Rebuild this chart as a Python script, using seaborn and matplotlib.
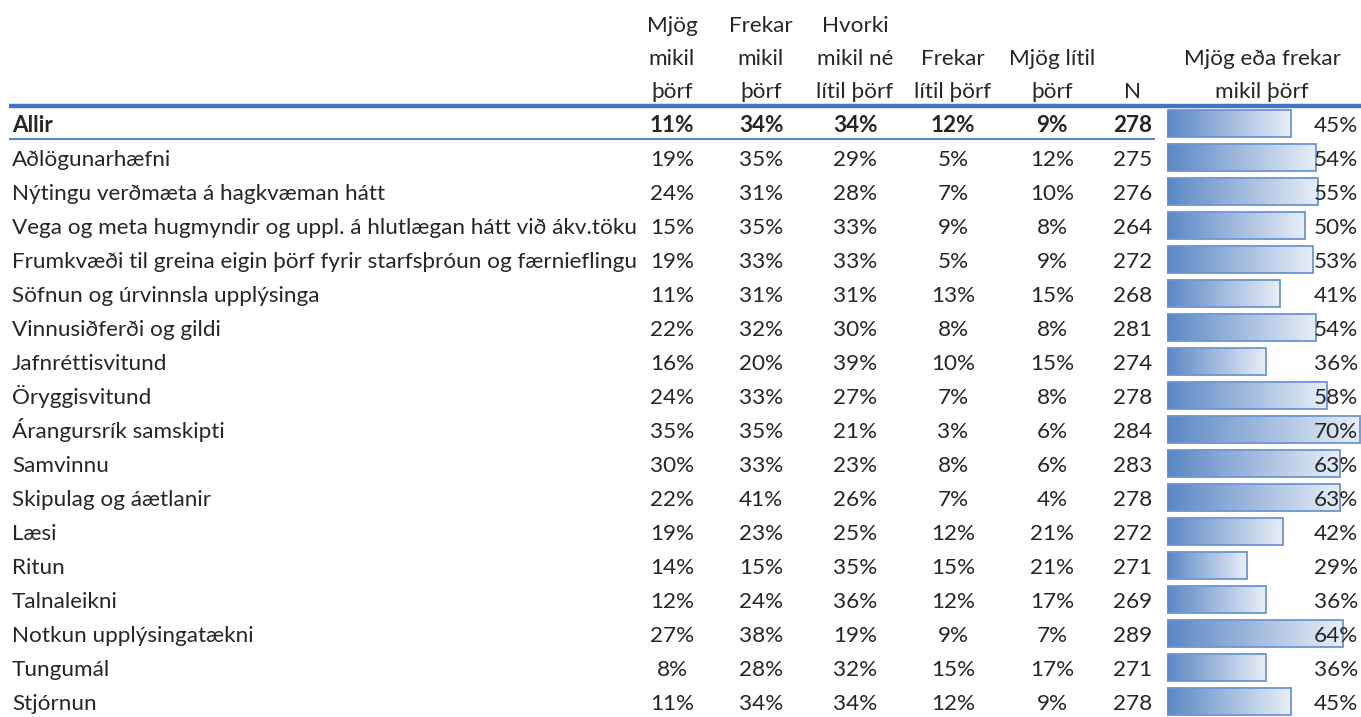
import matplotlib
matplotlib.use("Agg")
import matplotlib.pyplot as plt
import numpy as np
import seaborn as sns
from matplotlib.colors import LinearSegmentedColormap

categories = [
    "Allir",
    "Aðlögunarhæfni",
    "Nýtingu verðmæta á hagkvæman hátt",
    "Vega og meta hugmyndir og uppl. á hlutlægan hátt við ákv.töku",
    "Frumkvæði til greina eigin þörf fyrir starfsþróun og færnieflingu",
    "Söfnun og úrvinnsla upplýsinga",
    "Vinnusiðferði og gildi",
    "Jafnréttisvitund",
    "Öryggisvitund",
    "Árangursrík samskipti",
    "Samvinnu",
    "Skipulag og áætlanir",
    "Læsi",
    "Ritun",
    "Talnaleikni",
    "Notkun upplýsingatækni",
    "Tungumál",
    "Stjórnun",
]
mjog_mikil = [11, 19, 24, 15, 19, 11, 22, 16, 24, 35, 30, 22, 19, 14, 12, 27, 8, 11]
frekar_mikil = [34, 35, 31, 35, 33, 31, 32, 20, 33, 35, 33, 41, 23, 15, 24, 38, 28, 34]
hvorki = [34, 29, 28, 33, 33, 31, 30, 39, 27, 21, 23, 26, 25, 35, 36, 19, 32, 34]
frekar_litil = [12, 5, 7, 9, 5, 13, 8, 10, 7, 3, 8, 7, 12, 15, 12, 9, 15, 12]
mjog_litil = [9, 12, 10, 8, 9, 15, 8, 15, 8, 6, 6, 4, 21, 21, 17, 7, 17, 9]
n_svor = [278, 275, 276, 264, 272, 268, 281, 274, 278, 284, 283, 278, 272, 271, 269, 289, 271, 278]
mikil_samtals = [45, 54, 55, 50, 53, 41, 54, 36, 58, 70, 63, 63, 42, 29, 36, 64, 36, 45]

headers = [
    ["Mjög", "mikil", "þörf"],
    ["Frekar", "mikil", "þörf"],
    ["Hvorki", "mikil né", "lítil þörf"],
    ["Frekar", "lítil þörf"],
    ["Mjög lítil", "þörf"],
    ["N"],
]
bar_header = ["Mjög eða frekar", "mikil þörf"]

sns.set_theme(style="white")
plt.rcParams["font.family"] = ["Lato", "DejaVu Sans"]

W, H = 1361, 717
fig = plt.figure(figsize=(W / 100, H / 100), dpi=100)
ax = fig.add_axes([0, 0, 1, 1])
ax.set_xlim(0, W)
ax.set_ylim(H, 0)
ax.axis("off")

FS = 16.2
base0 = 132      # baseline of the first row
pitch = 34
col_x = [672, 761, 855, 953, 1052, 1133]
bar_x0 = 1167
px_per_pct = 2.75

# header
for cx, lines in zip(col_x, headers):
    for k, line in enumerate(reversed(lines)):
        ax.text(cx, 98 - 33 * k, line, ha="center", va="baseline", fontsize=FS)
for k, line in enumerate(reversed(bar_header)):
    ax.text(1262, 98 - 33 * k, line, ha="center", va="baseline", fontsize=FS)

ax.plot([9, W], [106.3, 106.3], color="#4472C4", lw=3.2, solid_capstyle="butt")
ax.plot([9, 1155], [138.5, 138.5], color="#5585D0", lw=1.5, solid_capstyle="butt")

cols = [mjog_mikil, frekar_mikil, hvorki, frekar_litil, mjog_litil]
for i, cat in enumerate(categories):
    y = base0 + pitch * i
    w = "bold" if i == 0 else "normal"
    ax.text(12, y, cat, ha="left", va="baseline", fontsize=FS, fontweight=w)
    for cx, vals in zip(col_x[:5], cols):
        ax.text(cx, y, f"{vals[i]}%", ha="center", va="baseline", fontsize=FS, fontweight=w)
    ax.text(col_x[5], y, str(n_svor[i]), ha="center", va="baseline", fontsize=FS, fontweight=w)

# data bars
bx = fig.add_axes([bar_x0 / W, 0, (W - bar_x0) / W, 1])
sns.barplot(x=mikil_samtals, y=categories, orient="h", ax=bx, width=0.8,
            color="#638EC6", edgecolor="#6C95D2", linewidth=1.3)
cmap = LinearSegmentedColormap.from_list("bar", ["#5B87C5", "#E8EEF7"])
grad = np.linspace(0, 1, 256).reshape(1, -1)
for p in list(bx.patches):
    x0, y0 = p.get_x(), p.get_y()
    x1, y1 = x0 + p.get_width(), y0 + p.get_height()
    im = bx.imshow(grad, extent=[x0, x1, y1, y0], aspect="auto", cmap=cmap, zorder=1)
    im.set_clip_path(p)
    p.set_facecolor("none")
    p.set_zorder(2)
bar_c0 = base0 - 8.5
bx.set_xlim(0, (W - bar_x0) / px_per_pct)
bx.set_ylim((H - bar_c0) / pitch, -bar_c0 / pitch)
bx.axis("off")
bx.patch.set_visible(False)

# percentages on top of the bars
for i, v in enumerate(mikil_samtals):
    ax.text(1358, base0 + pitch * i, f"{v}%", ha="right", va="baseline",
            fontsize=FS, zorder=5)
ax.set_zorder(bx.get_zorder() + 1)
ax.patch.set_visible(False)

fig.savefig("out.png", dpi=100)
